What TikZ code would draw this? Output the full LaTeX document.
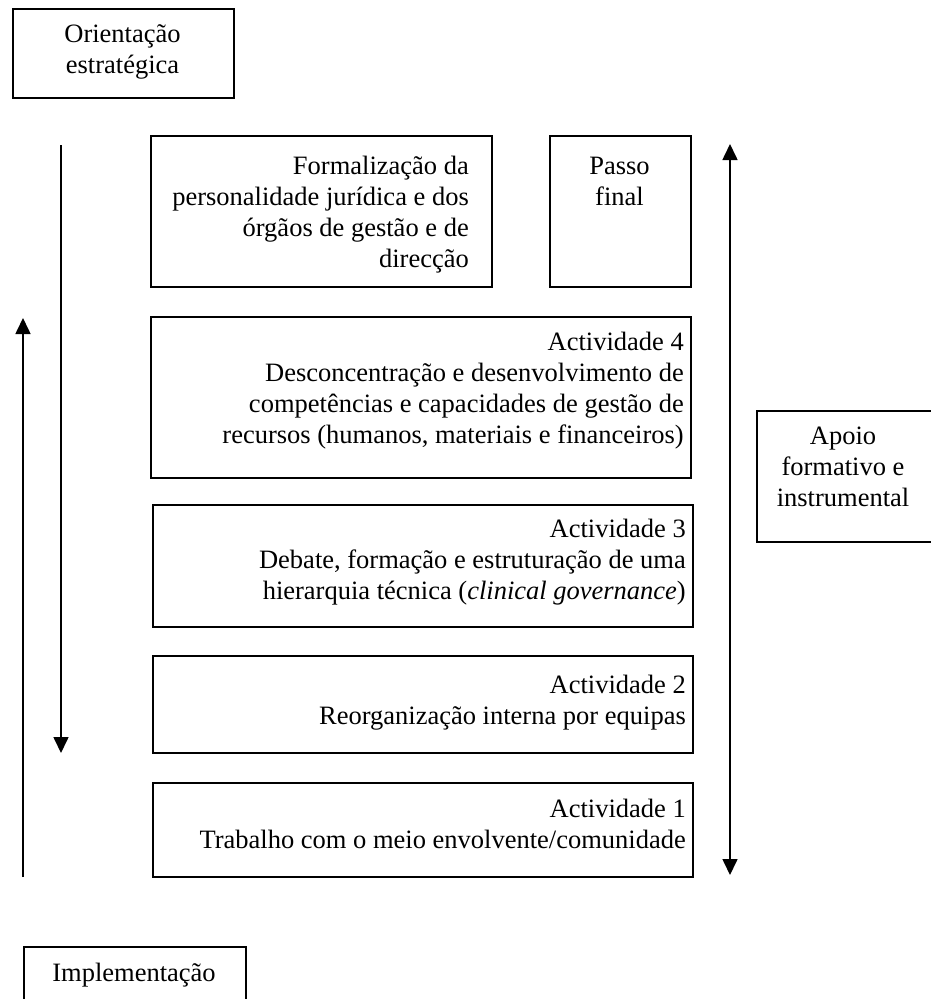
\documentclass[tikz,border=0pt]{standalone}
\usepackage{fontspec}
\setmainfont{Liberation Serif}
\usetikzlibrary{arrows.meta}
\begin{document}
\begin{tikzpicture}[x=1pt,y=-1pt,
  box/.style={draw, line width=1.6pt, inner sep=0pt, anchor=north west},
  lbl/.style={inner sep=0pt, font=\fontsize{26.5}{31}\selectfont},
  rlbl/.style={lbl, align=right, anchor=north east},
  clbl/.style={lbl, align=center, anchor=north},
  tip/.style={Triangle[width=15pt,length=16pt]},
  arr/.style={line width=1.6pt, -{Triangle[width=15pt,length=16pt]}},
  darr/.style={line width=1.6pt, {Triangle[width=15pt,length=16pt]}-{Triangle[width=15pt,length=16pt]}},
]
\useasboundingbox (0,0) rectangle (930,999);

% boxes
\node[box, minimum width=221, minimum height=89] (orient) at (12,8) {};
\node[box, minimum width=341, minimum height=151] (formal) at (150,135) {};
\node[box, minimum width=141, minimum height=151] (passo) at (549,135) {};
\node[box, minimum width=540, minimum height=161] (act4) at (150,316) {};
\node[box, minimum width=540, minimum height=122] (act3) at (152,504) {};
\node[box, minimum width=540, minimum height=97] (act2) at (152,655) {};
\node[box, minimum width=540, minimum height=94] (act1) at (152,782) {};
\node[box, minimum width=176, minimum height=131] (apoio) at (756,410) {};
\node[box, minimum width=222, minimum height=60] (impl) at (23,946) {};

% texts
\node[clbl] (orientt) at (122.5,20.3) {\strut Orientação\\estratégica};
\node[rlbl] (formalt) at (469,152.3) {\strut Formalização da\\personalidade jurídica e dos\\órgãos de gestão e de\\direcção};
\node[clbl] (passot) at (619.5,152.3) {\strut Passo\\final};
\node[rlbl] (act4t) at (684,328.3) {\strut Actividade 4\\Desconcentração e desenvolvimento de\\competências e capacidades de gestão de\\recursos (humanos, materiais e financeiros)};
\node[rlbl] (act3t) at (686,515.3) {\strut Actividade 3\\Debate, formação e estruturação de uma\\hierarquia técnica (\textit{clinical governance})};
\node[rlbl] (act2t) at (686,671.3) {\strut Actividade 2\\Reorganização interna por equipas};
\node[rlbl] (act1t) at (686,795.3) {\strut Actividade 1\\Trabalho com o meio envolvente/comunidade};
\node[clbl] (apoiot) at (843,422.3) {\strut Apoio\\formativo e\\instrumental};
\node[clbl] (implt) at (134,959.3) {\strut Implementação};

% arrows
\coordinate (dtop) at (61,145);
\coordinate (dbot) at (61,753);
\coordinate (ubot) at (23,877);
\coordinate (utop) at (23,318);
\coordinate (rtop) at (730,144);
\coordinate (rbot) at (730,875);
\draw[arr] (dtop) -- (dbot);
\draw[arr] (ubot) -- (utop);
\draw[darr] (rtop) -- (rbot);
\end{tikzpicture}
\end{document}
